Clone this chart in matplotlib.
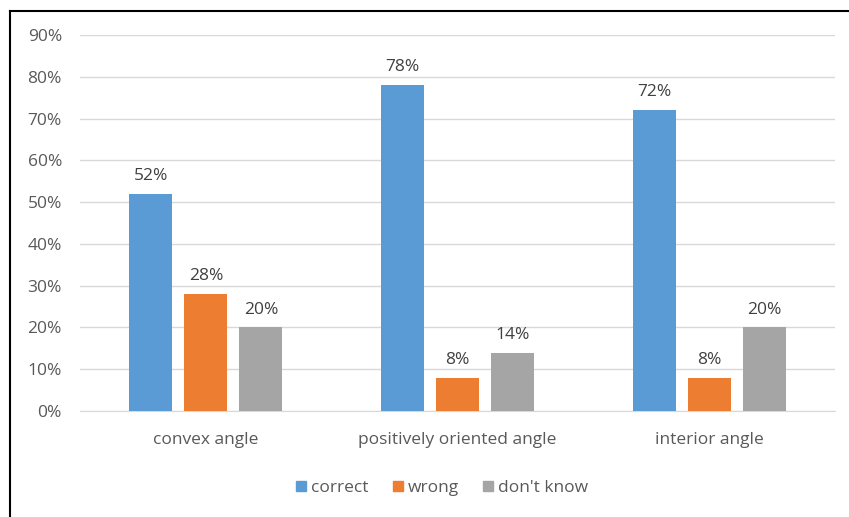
import numpy as np
import matplotlib
matplotlib.use("Agg")
import matplotlib.pyplot as plt
from matplotlib.lines import Line2D
from matplotlib.ticker import PercentFormatter

categories = ["convex angle", "positively oriented angle", "interior angle"]
series = ["correct", "wrong", "don't know"]
correct = [52, 78, 72]
wrong = [28, 8, 8]
dont_know = [20, 14, 20]
colors = ["#5b9bd5", "#ed7d31", "#a5a5a5"]

plt.rcParams['font.family'] = ['Open Sans', 'DejaVu Sans']
txt = "#595959"
fs = 12.5

fig = plt.figure(figsize=(8.49, 5.17), dpi=100)
ax = fig.add_axes([80 / 849, 1 - 411 / 517, 755 / 849, 376 / 517])

x = np.arange(len(categories))
step = 55 / 251.7
width = 43 / 251.7
for i, (name, vals) in enumerate(zip(series, [correct, wrong, dont_know])):
    bars = ax.bar(x + (i - 1) * step, vals, width, color=colors[i], label=name, zorder=3)
    for b, v in zip(bars, vals):
        ax.annotate("%d%%" % v, (b.get_x() + b.get_width() / 2, v),
                    xytext=(0, 7), textcoords="offset points",
                    ha="center", va="bottom", fontsize=fs, color="#404040")

ax.set_xlim(-0.5, 2.5)
ax.set_ylim(0, 90)
ax.set_yticks(np.arange(0, 91, 10))
ax.yaxis.set_major_formatter(PercentFormatter(decimals=0))
ax.set_xticks(x)
ax.set_xticklabels(categories)
ax.tick_params(length=0, labelsize=fs, colors=txt)
ax.tick_params(axis="x", pad=15)
ax.tick_params(axis="y", pad=13)
ax.grid(axis="y", color="#d9d9d9", linewidth=1, zorder=0)
for s in ["top", "right", "left"]:
    ax.spines[s].set_visible(False)
ax.spines["bottom"].set_color("#d9d9d9")

handles = [Line2D([], [], marker="s", linestyle="none", markersize=7.5,
                  color=c, label=n) for c, n in zip(colors, series)]
leg = fig.legend(handles=handles, loc="center", bbox_to_anchor=(441 / 849, 1 - 488 / 517),
                 ncol=3, frameon=False, fontsize=fs, handletextpad=0.15,
                 columnspacing=1.3, handlelength=0.8)
for t in leg.get_texts():
    t.set_color(txt)

# outer frame (left and top edges visible)
fig.add_artist(Line2D([10 / 849, 10 / 849], [0, 1 - 11 / 517], transform=fig.transFigure,
                      color="black", linewidth=1.5))
fig.add_artist(Line2D([10 / 849, 1], [1 - 11 / 517, 1 - 11 / 517], transform=fig.transFigure,
                      color="black", linewidth=1.5))

fig.savefig("out.png", dpi=100)
